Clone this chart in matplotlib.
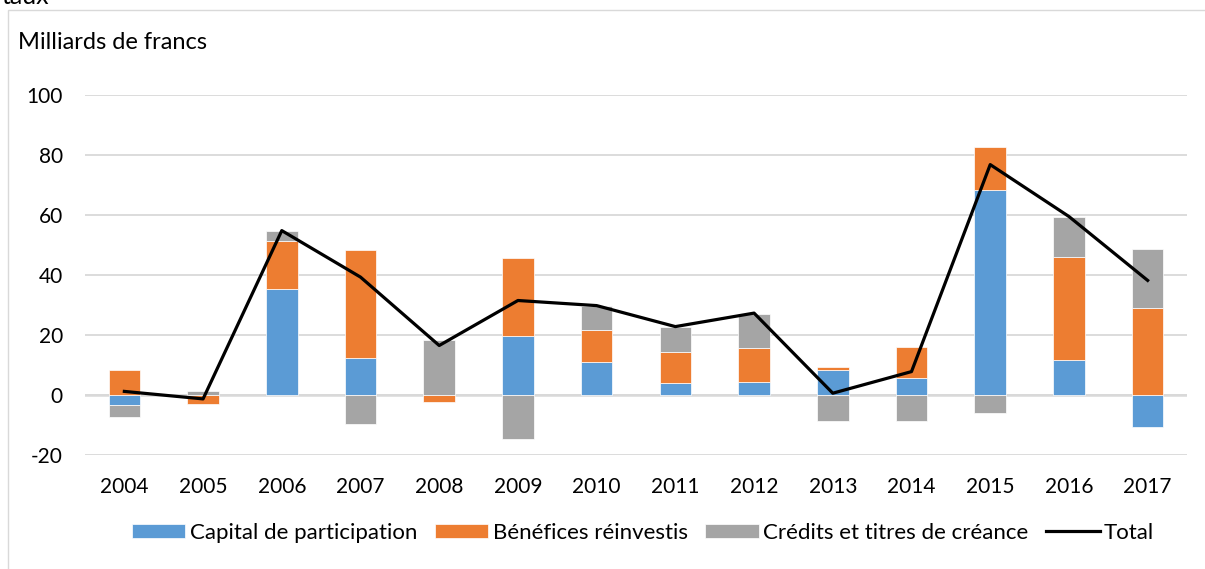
import matplotlib
matplotlib.use("Agg")
import matplotlib.pyplot as plt
import numpy as np
from matplotlib.patches import Rectangle

years = ["2004", "2005", "2006", "2007", "2008", "2009", "2010",
         "2011", "2012", "2013", "2014", "2015", "2016", "2017"]
capital = [-3.2, 0.0, 35.2, 12.4, 0.0, 19.6, 10.9, 3.9, 4.5, 8.2, 5.7, 68.2, 11.7, -10.7]
benefices = [8.2, -2.9, 16.1, 36.0, -2.2, 26.0, 10.8, 10.4, 11.2, 1.0, 10.4, 14.5, 34.2, 29.1]
credits = [-4.2, 1.5, 3.3, -9.7, 18.4, -14.6, 7.9, 8.5, 11.4, -8.7, -8.5, -6.1, 13.4, 19.5]
total = [1.2, -1.3, 54.8, 39.3, 16.5, 31.5, 29.8, 22.8, 27.3, 0.6, 7.8, 76.8, 59.5, 38.2]
series_names = ["Capital de participation", "Bénéfices réinvestis",
                "Crédits et titres de créance", "Total"]
yticks = [-20, 0, 20, 40, 60, 80, 100]

colors = ["#5B9BD5", "#ED7D31", "#A5A5A5"]

plt.rcParams['font.family'] = ['Lato', 'DejaVu Sans']
fs_tick = 15
fs_leg = 16

fig = plt.figure(figsize=(12.05, 5.69), dpi=100)
# outer border
fig.patches.append(Rectangle((8/1205, -0.1), 1.2, 1 - 10/569 + 0.1,
                             transform=fig.transFigure, fill=False,
                             edgecolor="#D9D9D9", lw=1.0))
fig.text(2/1205, 1 - 4/569, "taux", fontsize=18, va="baseline", ha="left")
fig.text(18/1205, 1 - 49/569, "Milliards de francs", fontsize=17,
         va="baseline", ha="left")

ax = fig.add_axes([85/1205, 1 - 455/569, 1102/1205, 360/569])
x = np.arange(len(years))
pos_bottom = np.zeros(len(years))
neg_bottom = np.zeros(len(years))
for vals, c, name in zip([capital, benefices, credits], colors, series_names[:3]):
    v = np.array(vals)
    bottom = np.where(v >= 0, pos_bottom, neg_bottom)
    ax.bar(x, v, width=0.4, bottom=bottom, color=c, label=name,
           edgecolor="white", linewidth=0.5, zorder=2)
    pos_bottom += np.where(v >= 0, v, 0)
    neg_bottom += np.where(v < 0, v, 0)

ax.plot(x, total, color="black", lw=2.3, label=series_names[3], zorder=3)

ax.set_xlim(-0.5, len(years) - 0.5)
ax.set_ylim(-20, 100)
ax.set_yticks(yticks)
ax.set_yticklabels([str(t) for t in yticks])
ax.set_xticks(x)
ax.set_xticklabels(years)
ax.tick_params(axis="both", length=0, labelsize=fs_tick)
ax.tick_params(axis="y", pad=16)
ax.tick_params(axis="x", pad=16)
for s in ax.spines.values():
    s.set_visible(False)
ax.yaxis.grid(True, color="#D9D9D9", lw=1.3, zorder=0)
ax.axhline(0, color="#D9D9D9", lw=1.8, zorder=1)
ax.set_axisbelow(True)

handles, labels = ax.get_legend_handles_labels()
order = [1, 2, 3, 0]
handles = [handles[i] for i in order]
labels = [labels[i] for i in order]
leg = fig.legend(handles, labels, loc="center", ncol=4,
                 bbox_to_anchor=(643/1205, 1 - 533/569), frameon=False,
                 fontsize=fs_leg, handlelength=2.4, handleheight=0.62,
                 handletextpad=0.2, columnspacing=0.8, borderpad=0)

fig.savefig("out.png", dpi=100)
